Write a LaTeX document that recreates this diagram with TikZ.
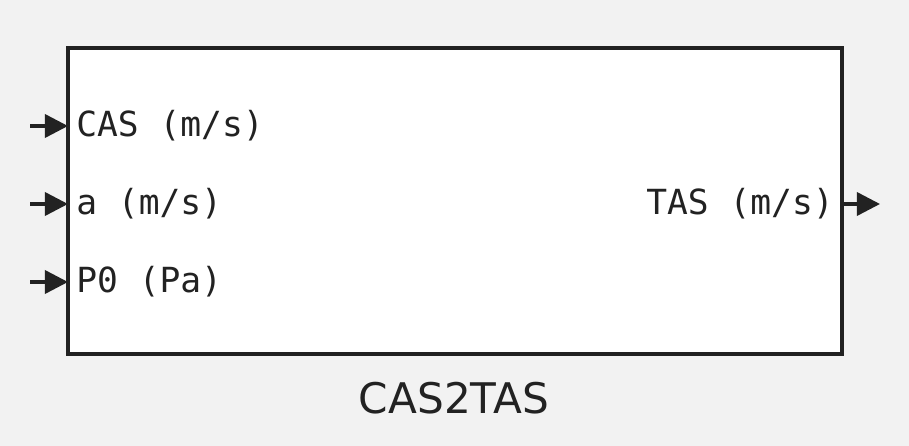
\documentclass[tikz,border=0pt]{standalone}
\usepackage{fontspec}
\setmainfont{DejaVu Sans}
\setmonofont{DejaVu Sans Mono}
\usetikzlibrary{arrows.meta,positioning}
\definecolor{cbg}{HTML}{F2F2F2}
\definecolor{cline}{HTML}{222222}
\definecolor{ctext}{HTML}{222222}

\begin{document}
\begin{tikzpicture}[
    x=0.025cm, y=-0.025cm,
    blockbox/.style={
        draw=cline, fill=white, line width=2.4pt,
        minimum width=19.35cm, minimum height=7.65cm,
        inner sep=0pt,
    },
    portlabel/.style={font=\ttfamily\fontsize{24.6}{28}\selectfont, text=ctext, inner sep=0pt},
    portarrow/.style={-{Triangle[length=0.58cm,width=0.58cm]}, line width=2.5pt, cline},
    blocktitle/.style={font=\fontsize{30}{36}\selectfont, text=ctext, inner sep=0pt},
]

% ============================================================
% BACKGROUND
% ============================================================
\fill[cbg] (0,0) rectangle (909,446);
\useasboundingbox (0,0) rectangle (909,446);

% ============================================================
% BLOCK
% ============================================================
\node[blockbox] (cas2tas) at (455,201) {};
\node[blocktitle] (title) at (454,398) {CAS2TAS};

% ============================================================
% INPUT PORTS
% ============================================================
\coordinate (in_cas) at (68,126);
\coordinate (in_a)   at (68,204);
\coordinate (in_p0)  at (68,282);

\node[portlabel, anchor=west] (l_cas) at (76,126) {CAS (m/s)};
\node[portlabel, anchor=west] (l_a)   at (76,204) {a (m/s)};
\node[portlabel, anchor=west] (l_p0)  at (76,282) {P0 (Pa)};

\coordinate (s_cas) at (30,126);
\coordinate (s_a)   at (30,204);
\coordinate (s_p0)  at (30,282);

\draw[portarrow] (s_cas) -- (in_cas);
\draw[portarrow] (s_a) -- (in_a);
\draw[portarrow] (s_p0) -- (in_p0);

% ============================================================
% OUTPUT PORT
% ============================================================
\coordinate (out_tas) at (842,204);
\coordinate (e_tas) at (880,204);
\node[portlabel, anchor=east] (l_tas) at (834,204) {TAS (m/s)};

\draw[portarrow] (out_tas) -- (e_tas);

\end{tikzpicture}
\end{document}
